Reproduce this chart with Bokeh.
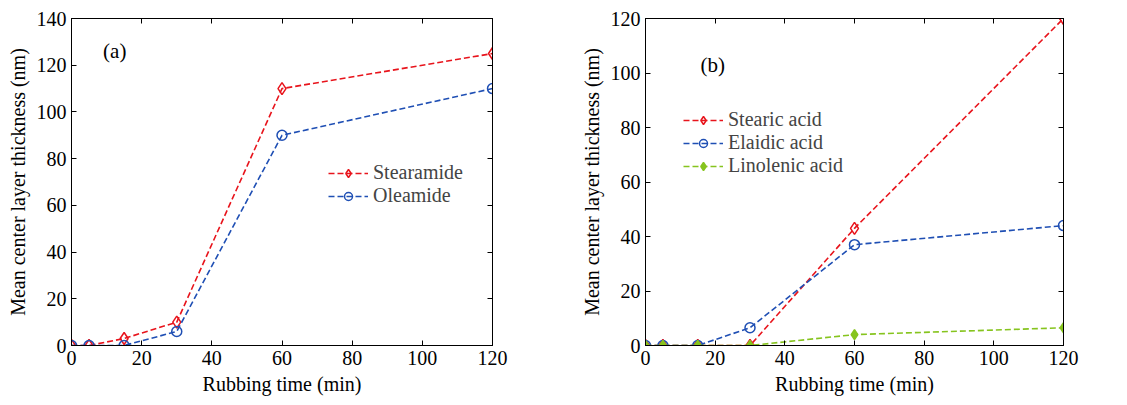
from bokeh.plotting import figure
from bokeh.layouts import row
from bokeh.models import LinearAxis, FixedTicker, Range1d, Legend, LegendItem
from bokeh.core.properties import value
from bokeh.embed import file_html
from bokeh.resources import INLINE

# ---- data ----
time_min = [0, 5, 15, 30, 60, 120]
stearamide = [0, 0, 3, 10, 110, 125]
oleamide = [0, 0, 0, 6, 90, 110]

stearic_acid = [0, 0, 0, 0, 43, 120]
elaidic_acid = [0, 0, 0, 6.5, 37, 44]
linolenic_acid = [0, 0, 0, 0, 4, 6.5]

x_ticks = [0, 20, 40, 60, 80, 100, 120]
y_ticks_a = [0, 20, 40, 60, 80, 100, 120, 140]
y_ticks_b = [0, 20, 40, 60, 80, 100, 120]

panel_tags = ["(a)", "(b)"]

RED = "#e8141c"
BLUE = "#1f4fb4"
GREEN = "#86c41e"
FONT = "Times"
FS = "20px"


def make_fig(width, ymax, yticks, bl, br):
    p = figure(width=width, height=397, output_backend="svg", toolbar_location=None,
               x_range=Range1d(0, 120), y_range=Range1d(0, ymax),
               min_border_left=bl, min_border_right=br, min_border_top=18, min_border_bottom=47,
               x_axis_label="Rubbing time (min)", y_axis_label="Mean center layer thickness (nm)")
    p.xaxis.major_label_text_font = FONT
    p.xaxis.axis_label_text_font = FONT
    p.yaxis.major_label_text_font = FONT
    p.yaxis.axis_label_text_font = FONT
    p.xaxis.major_label_text_font_size = FS
    p.yaxis.major_label_text_font_size = FS
    p.xaxis.axis_label_text_font_size = FS
    p.yaxis.axis_label_text_font_size = FS
    p.xaxis.major_label_text_color = "black"
    p.yaxis.major_label_text_color = "black"
    p.xaxis.axis_label_text_color = "black"
    p.yaxis.axis_label_text_color = "black"
    p.xaxis.axis_label_text_font_style = "normal"
    p.yaxis.axis_label_text_font_style = "normal"
    p.grid.visible = False
    p.xaxis.ticker = FixedTicker(ticks=x_ticks)
    p.yaxis.ticker = FixedTicker(ticks=yticks)
    p.xaxis.major_tick_in = 5
    p.xaxis.major_tick_out = 0
    p.yaxis.major_tick_in = 5
    p.yaxis.major_tick_out = 0
    p.outline_line_color = "black"
    t = LinearAxis(ticker=FixedTicker(ticks=x_ticks),
                   major_label_overrides={v: "" for v in x_ticks},
                   major_tick_in=5, major_tick_out=0)
    p.add_layout(t, "above")
    r = LinearAxis(ticker=FixedTicker(ticks=yticks),
                   major_label_overrides={v: "" for v in yticks},
                   major_tick_in=5, major_tick_out=0)
    p.add_layout(r, "right")
    return p


def series(p, y, color, marker, size, fill):
    ln = p.line(time_min, y, line_color=color, line_width=1.6, line_dash="6 3")
    mk = p.scatter(time_min, y, marker=marker, size=size, line_color=color, line_width=1.5,
                   fill_color=color, fill_alpha=1.0 if fill else 0.0)
    return [ln, mk]


def add_legend(p, items, loc):
    lg = Legend(items=items, location=loc, label_text_font=FONT, label_text_font_size="20px",
                border_line_alpha=0, background_fill_alpha=0, glyph_width=40,
                spacing=0, padding=0)
    p.add_layout(lg)


def add_tag(p, tag, x, y):
    p.text(x=[x], y=[y], text=[tag], text_font=value(FONT), text_font_size="21px",
           text_baseline="middle", text_color="black")


# ---- panel (a) ----
pa = make_fig(566, 140, y_ticks_a, 71, 74)
r1 = series(pa, stearamide, RED, "diamond", 12, False)
r2 = series(pa, oleamide, BLUE, "circle", 10, False)
add_legend(pa, [LegendItem(label="Stearamide", renderers=r1),
                LegendItem(label="Oleamide", renderers=r2)], (257, 138))
add_tag(pa, panel_tags[0], 9, 126)

# ---- panel (b) ----
pb = make_fig(556, 120, y_ticks_b, 79, 59)
s1 = series(pb, stearic_acid, RED, "diamond", 12, False)
s2 = series(pb, elaidic_acid, BLUE, "circle", 10, False)
s3 = series(pb, linolenic_acid, GREEN, "diamond", 10, True)
add_legend(pb, [LegendItem(label="Stearic acid", renderers=s1),
                LegendItem(label="Elaidic acid", renderers=s2),
                LegendItem(label="Linolenic acid", renderers=s3)], (38, 168))
add_tag(pb, panel_tags[1], 15.8, 103)

p = row(pa, pb)
open("out.html", "w").write(file_html(p, INLINE))
